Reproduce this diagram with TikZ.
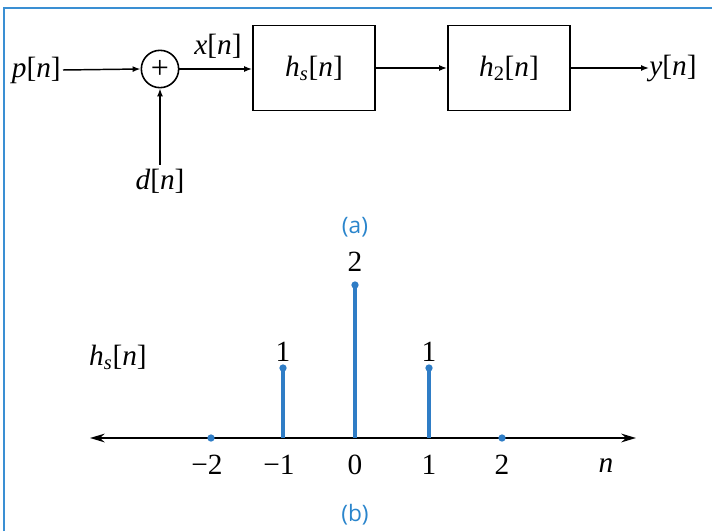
\documentclass[tikz,border=0pt]{standalone}
\usepackage{fontspec}
\setmainfont{Liberation Serif}
\newfontfamily\capfont{Open Sans}
\usetikzlibrary{arrows.meta}
\definecolor{framec}{HTML}{3A8FD3}
\definecolor{stemc}{HTML}{2F7DC6}
\definecolor{capc}{HTML}{2A85CC}
\tikzset{
  lbl/.style={font=\fontsize{22}{26}\selectfont, inner sep=0pt},
  blk/.style={draw, line width=1.3pt, minimum width=91.5pt, minimum height=63.75pt, inner sep=0pt, font=\fontsize{22}{26}\selectfont},
  sig/.style={line width=1.1pt, -{Latex[length=6pt,width=4.5pt]}},
  captxt/.style={font=\capfont\fontsize{17}{20}\selectfont, text=capc, inner sep=0pt},
  stemln/.style={stemc, line width=2.6pt},
  tipdot/.style={circle, fill=stemc, inner sep=0pt, minimum size=5.5pt},
}
\begin{document}
\begin{tikzpicture}[x=0.75pt, y=-0.75pt]
\useasboundingbox (0,0) rectangle (712,531);
\draw[framec, line width=1.2pt] (4,531) -- (4,8) -- (712,8);
% block diagram
\node[lbl, anchor=east] (p) at (61,70) {\textit{p}[\textit{n}]};
\node[draw, circle, line width=1.2pt, minimum size=28pt, inner sep=0pt, font=\fontsize{24}{26}\selectfont] (sum) at (160,69) {+};
\node[lbl] (d) at (160,181) {\textit{d}[\textit{n}]};
\node[blk] (hs) at (314,68) {\textit{h}\textsubscript{\textit{s}}[\textit{n}]};
\node[blk] (h2) at (509,68) {\textit{h}\textsubscript{2}[\textit{n}]};
\node[lbl, anchor=west] (y) at (649,68) {\textit{y}[\textit{n}]};
\node[lbl] (x) at (218,46) {\textit{x}[\textit{n}]};
\draw[sig] (p.east) ++(2,0) coordinate (pe) -- (sum.west);
\draw[sig] (d.north) ++(0,-4) coordinate (dn) -- (sum.south);
\draw[sig] (sum.east) -- (sum.east -| hs.west);
\draw[sig] (hs.east) -- (h2.west);
\draw[sig] (h2.east) -- (y.west);
\node[captxt] (ca) at (355,227) {(a)};
% stem plot
\coordinate (al) at (90,438);
\coordinate (ar) at (636,438);
\draw[line width=1.6pt, {Stealth[length=11pt,width=6.5pt]}-{Stealth[length=11pt,width=6.5pt]}] (al) -- (ar);
\coordinate (m2) at (211,438);
\coordinate (m1) at (283,438);
\coordinate (z0) at (355,438);
\coordinate (p1) at (429,438);
\coordinate (p2) at (502,438);
\coordinate (tm1) at (283,368);
\coordinate (tz0) at (355,285);
\coordinate (tp1) at (429,368);
\draw[stemln] (m1) -- (tm1);
\draw[stemln] (z0) -- (tz0);
\draw[stemln] (p1) -- (tp1);
\node[tipdot] (dtm1) at (tm1) {};
\node[tipdot] (dtz0) at (tz0) {};
\node[tipdot] (dtp1) at (tp1) {};
\node[tipdot] (dm2) at (m2) {};
\node[tipdot] (dp2) at (p2) {};
\node[lbl] (v2) at (355,262) {2};
\node[lbl] (v1a) at (283,352) {1};
\node[lbl] (v1b) at (429,352) {1};
\node[lbl] (hl) at (118,357) {\textit{h}\textsubscript{\textit{s}}[\textit{n}]};
\node[lbl] (lm2) at (207,465) {−2};
\node[lbl] (lm1) at (279,465) {−1};
\node[lbl] (l0) at (355,465) {0};
\node[lbl] (l1) at (429,465) {1};
\node[lbl] (l2) at (502,465) {2};
\node[lbl] (ln) at (606,466) {\textit{n}};
\node[captxt] (cb) at (355,515) {(b)};
\end{tikzpicture}
\end{document}
